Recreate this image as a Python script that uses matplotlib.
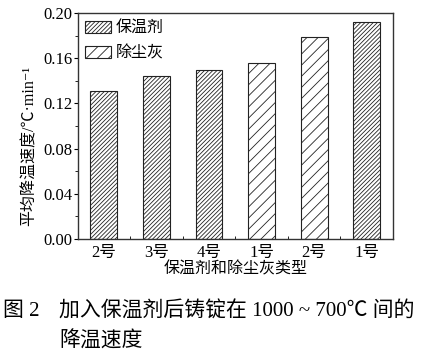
import matplotlib.pyplot as plt
from matplotlib.patches import Patch
from matplotlib.ticker import MultipleLocator, FixedLocator

plt.rcParams['font.family'] = ['Liberation Serif', 'Noto Sans CJK SC', 'DejaVu Sans']
plt.rcParams['hatch.linewidth'] = 0.6

# values
labels = ['2号', '3号', '4号', '1号', '2号', '1号']
rates = [0.131, 0.144, 0.150, 0.156, 0.179, 0.192]
kinds = ['保温剂', '保温剂', '保温剂', '除尘灰', '除尘灰', '保温剂']

hatches = {'保温剂': '////////', '除尘灰': '///'}

fig = plt.figure(figsize=(4.28, 3.58), dpi=100)
ax = fig.add_axes([78 / 428, 1 - 239 / 358, 315 / 428, 226 / 358])

x = list(range(len(rates)))
for xi, r, k in zip(x, rates, kinds):
    ax.bar(xi, r, width=0.51, color='white', edgecolor='#222222',
           linewidth=0.8, hatch=hatches[k])

ax.set_xlim(-0.49, 5.5)
ax.set_ylim(0, 0.20)
ax.set_xticks(x)
ax.set_xticklabels(labels, fontsize=12)
ax.tick_params(axis='x', which='major', length=0, pad=4)
ax.xaxis.set_minor_locator(FixedLocator([0.5, 1.5, 2.5, 3.5, 4.5]))
ax.tick_params(axis='x', which='minor', direction='in', length=2)

ax.yaxis.set_major_locator(MultipleLocator(0.04))
ax.yaxis.set_minor_locator(MultipleLocator(0.02))
ax.set_yticklabels([f'{v:.2f}' for v in ax.get_yticks()], fontsize=12)
ax.tick_params(axis='y', which='major', direction='out', length=3, pad=1)
ax.tick_params(axis='y', which='minor', direction='out', length=2)

for s in ax.spines.values():
    s.set_linewidth(1.0)
    s.set_color('#333333')

ax.set_xlabel('保温剂和除尘灰类型', fontsize=11.5, labelpad=1)
ax.set_ylabel('平均降温速度/℃·min⁻¹', fontsize=11.5)
ax.yaxis.set_label_coords(-0.127, 0.41)

handles = [Patch(facecolor='white', edgecolor='#222222', hatch=hatches[k], linewidth=0.8)
           for k in ['保温剂', '除尘灰']]
ax.legend(handles, ['保温剂', '除尘灰'], loc='upper left', frameon=False,
          fontsize=11.5, handlelength=1.6, handleheight=0.8,
          borderaxespad=0.05, labelspacing=0.6, handletextpad=0.3)

# caption under the chart
fig.text(3 / 428, 1 - 312 / 358, '图 2', fontsize=15, va='center', ha='left')
fig.text(59 / 428, 1 - 312 / 358, '加入保温剂后铸锭在 1000 ~ 700℃ 间的',
         fontsize=15, va='center', ha='left')
fig.text(59 / 428, 1 - 342 / 358, '降温速度', fontsize=15, va='center', ha='left')

fig.savefig('out.png', dpi=100)
